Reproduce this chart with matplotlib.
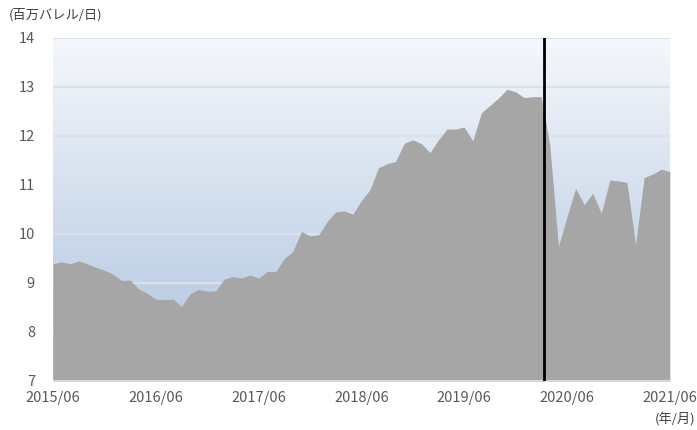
import matplotlib
matplotlib.use("Agg")
import matplotlib.pyplot as plt
import numpy as np
from matplotlib.colors import LinearSegmentedColormap

plt.rcParams['font.family'] = ['Noto Sans CJK JP', 'DejaVu Sans']

# Monthly crude oil production (million barrels/day), 2015/06 .. 2021/06
production = [
    9.39, 9.43, 9.39, 9.45, 9.39, 9.32, 9.26, 9.18, 9.05, 9.06,
    8.88, 8.79, 8.67, 8.66, 8.67, 8.52, 8.78, 8.87, 8.83, 8.84,
    9.08, 9.13, 9.10, 9.16, 9.10, 9.23, 9.23, 9.50, 9.64, 10.05,
    9.96, 9.98, 10.25, 10.45, 10.47, 10.40, 10.68, 10.90, 11.35, 11.43,
    11.48, 11.85, 11.92, 11.84, 11.66, 11.92, 12.14, 12.14, 12.18, 11.90,
    12.47, 12.62, 12.77, 12.95, 12.90, 12.78, 12.80, 12.80, 11.80, 9.74,
    10.35, 10.93, 10.60, 10.83, 10.42, 11.10, 11.08, 11.05, 9.78, 11.15,
    11.22, 11.32, 11.27,
]
tick_labels = ["2015/06", "2016/06", "2017/06", "2018/06", "2019/06", "2020/06", "2021/06"]
tick_months = [0, 12, 24, 36, 48, 60, 72]
y_ticks = [7, 8, 9, 10, 11, 12, 13, 14]
event_month = 57.3  # vertical marker (COVID shock)
y_unit = "(百万バレル/日)"
x_unit = "(年/月)"

months = np.arange(len(production))

fig = plt.figure(figsize=(6.97, 4.30), dpi=100)
ax = fig.add_axes([0.076, 0.114, 0.885, 0.798])

# gradient background
cmap = LinearSegmentedColormap.from_list("bg", ["#adc3df", "#f5f8fc"])
grad = np.linspace(0, 1, 256).reshape(-1, 1)
ax.imshow(grad, cmap=cmap, aspect="auto", origin="lower",
          extent=[0, 72, 7, 14], zorder=0)

for y in y_ticks[1:]:
    ax.axhline(y, color="#dde1e6", lw=1.6, zorder=1)

ax.fill_between(months, 7, production, color="#a6a6a6", lw=0, zorder=2)
ax.axhline(7, color="#d9d9d9", lw=1.5, zorder=3)
ax.axvline(event_month, color="black", lw=2.0, zorder=4)

ax.set_xlim(0, 72)
ax.set_ylim(7, 14)
ax.set_xticks(tick_months)
ax.set_xticklabels(tick_labels)
ax.set_yticks(y_ticks)
for s in ax.spines.values():
    s.set_visible(False)
ax.tick_params(length=0, colors="#595959", labelsize=10.5)
ax.tick_params(axis="y", pad=13)
ax.tick_params(axis="x", pad=7)

fig.text(0.012, 0.965, y_unit, fontsize=9.5, color="#404040", ha="left", va="center")
fig.text(0.997, 0.025, x_unit, fontsize=9.5, color="#404040", ha="right", va="center")

fig.savefig("out.png", dpi=100)
